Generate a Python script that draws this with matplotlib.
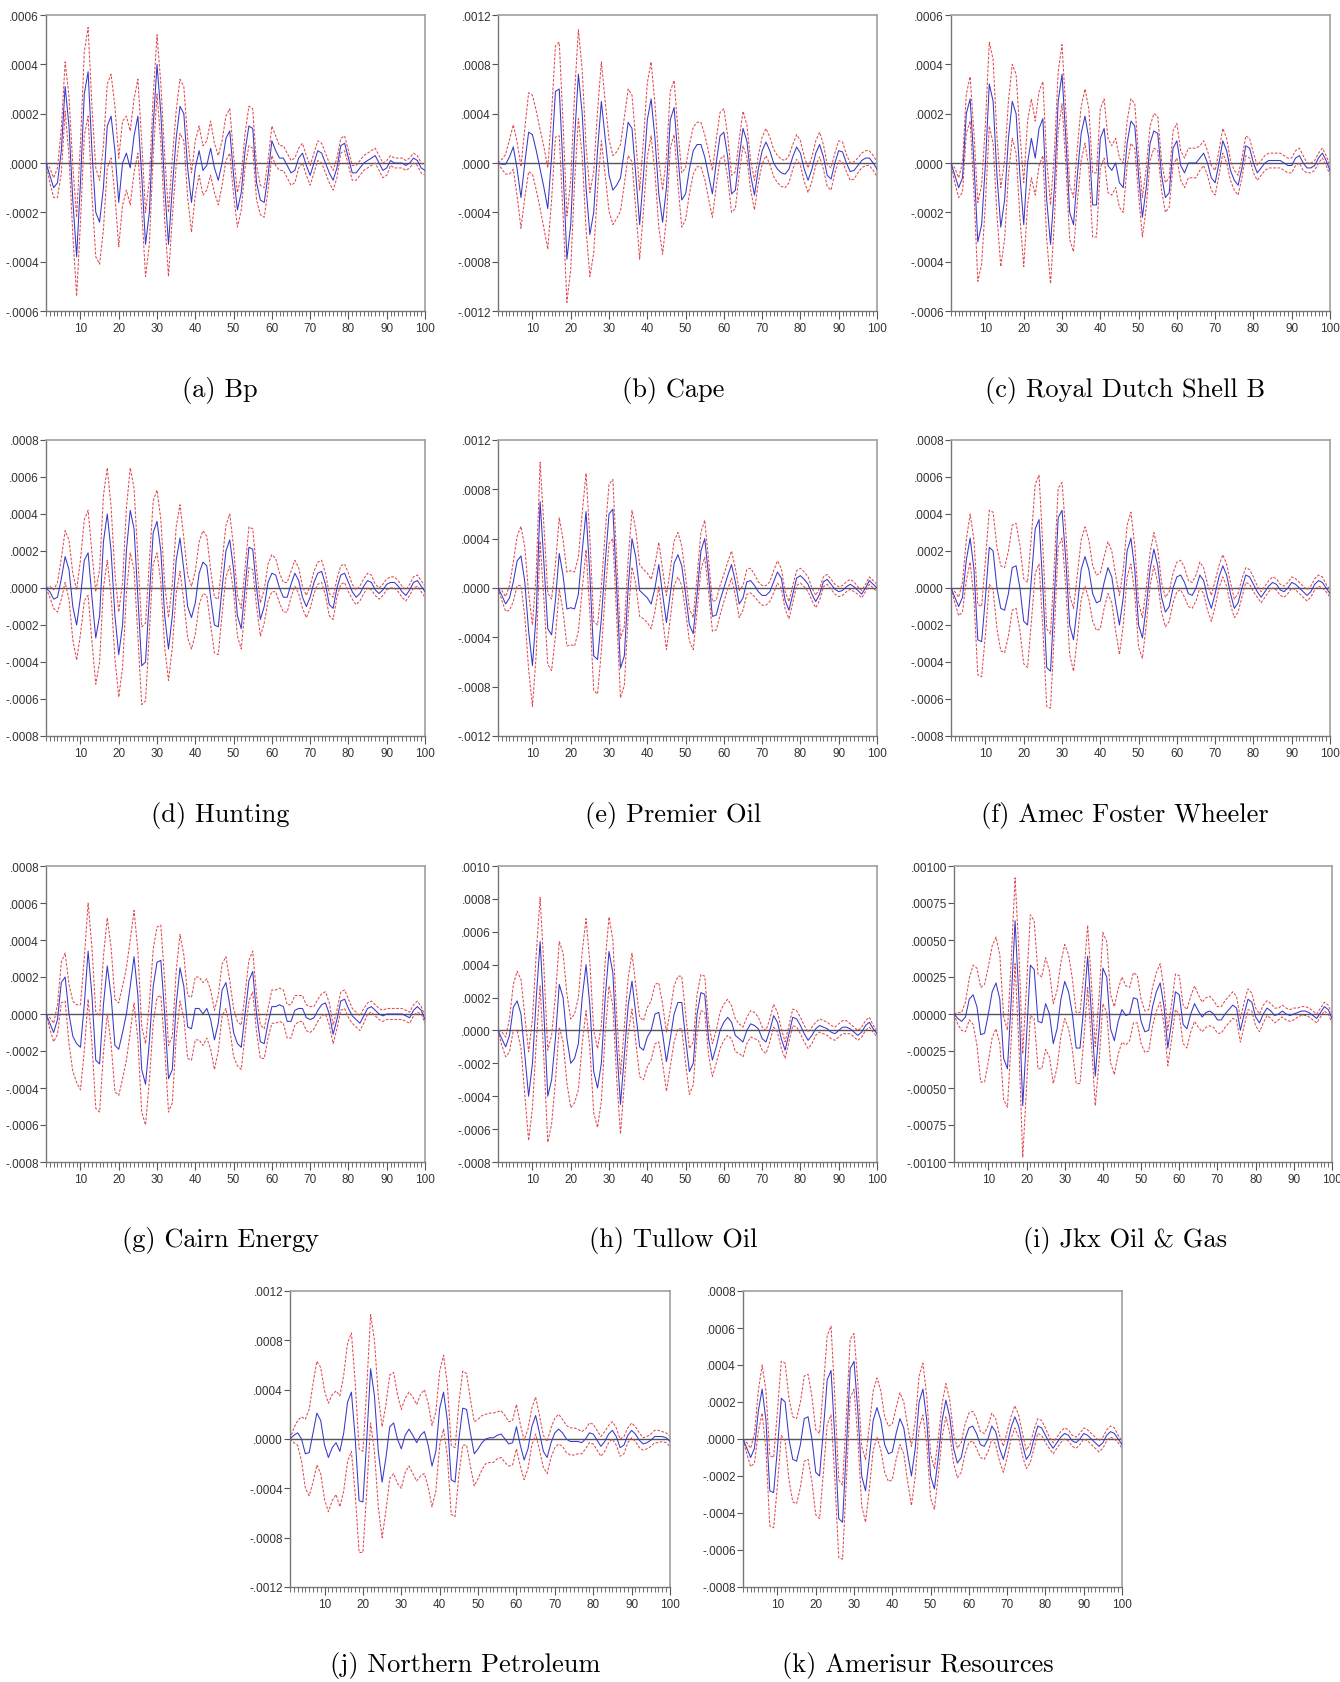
import numpy as np
import matplotlib
matplotlib.use('Agg')
import matplotlib.pyplot as plt
from matplotlib.ticker import FixedLocator, FuncFormatter

# impulse responses, units of 1e-5, horizon 1..100
# w_* is the half-width of the +/- 2 S.E. band
bp = [0, -5, -10, -8, 5, 31, 15, -15, -38, -8,
      28, 37, 5, -20, -24, -10, 15, 19, 5, -16,
      0, 4, -2, 11, 19, -5, -33, -20, 15, 40,
      20, -10, -33, -10, 10, 23, 20, -2, -16, -2,
      5, -3, -1, 6, -2, -7, 0, 10, 13, -5,
      -19, -12, 5, 15, 14, -8, -15, -16, -5, 9,
      5, 2, 2, -1, -4, -3, 2, 4, -1, -5,
      0, 5, 4, 0, -4, -7, -2, 7, 8, 2,
      -4, -4, -2, 0, 1, 2, 3, 0, -3, -2,
      1, 0, 0, 0, -1, 0, 2, 1, -2, -3]
w_bp = [0, 3, 4, 6, 9, 10, 12, 14, 16, 16,
        17, 18, 18, 18, 17, 17, 17, 17, 18, 18,
        17, 15, 15, 15, 15, 14, 13, 13, 12, 12,
        12, 13, 13, 12, 11, 11, 11, 12, 12, 11,
        10, 10, 10, 11, 10, 10, 9, 9, 9, 8,
        7, 7, 7, 8, 8, 7, 6, 6, 6, 6,
        6, 5, 5, 5, 5, 5, 4, 4, 4, 4,
        4, 4, 4, 4, 4, 4, 4, 3, 3, 3,
        3, 3, 3, 3, 3, 3, 3, 3, 3, 3,
        2, 2, 2, 2, 2, 2, 2, 2, 2, 2]

cape = [0, -1, -1, 5, 13, -5, -28, 0, 25, 23,
        10, -5, -20, -37, 5, 58, 60, -5, -78, -50,
        20, 72, 40, -20, -58, -40, 10, 50, 20, -10,
        -22, -18, -12, 10, 33, 28, -10, -50, -10, 35,
        52, 20, -25, -48, -20, 35, 45, 5, -30, -25,
        -5, 10, 15, 15, 5, -10, -25, 0, 22, 25,
        5, -25, -22, 5, 28, 18, -10, -26, -5, 10,
        17, 10, 0, -5, -8, -9, -5, 5, 13, 8,
        -5, -14, -5, 8, 15, 5, -10, -13, 0, 10,
        9, 0, -7, -6, -2, 2, 4, 4, 0, -5]
w_cape = [0, 4, 8, 14, 18, 22, 25, 28, 32, 32,
          32, 32, 33, 33, 35, 37, 38, 37, 35, 36,
          36, 36, 35, 34, 34, 33, 32, 32, 30, 29,
          28, 27, 27, 27, 27, 27, 28, 28, 29, 30,
          30, 28, 27, 26, 25, 23, 22, 22, 22, 21,
          20, 19, 18, 18, 18, 19, 19, 19, 19, 19,
          17, 15, 15, 14, 14, 13, 12, 12, 11, 11,
          11, 11, 11, 11, 11, 11, 11, 10, 10, 10,
          10, 10, 10, 10, 10, 10, 9, 9, 8, 8,
          8, 7, 7, 7, 6, 6, 6, 6, 6, 6]

shell = [0, -5, -10, -6, 20, 26, 0, -32, -25, 0,
         32, 25, -5, -26, -15, 10, 25, 20, -5, -25,
         0, 10, 2, 14, 18, -15, -33, -10, 25, 36,
         10, -20, -25, -5, 12, 19, 10, -17, -17, 10,
         14, -1, -3, 0, -8, -10, 8, 17, 15, -5,
         -22, -10, 8, 13, 12, -5, -14, -12, 6, 9,
         -1, -4, 0, 0, 0, 2, 4, 0, -6, -8,
         0, 9, 5, -3, -7, -9, -2, 7, 6, 0,
         -4, -2, 0, 1, 1, 1, 1, 0, -1, -1,
         2, 3, 0, -2, -2, -1, 2, 4, 1, -3]
w_shell = [0, 3, 4, 6, 8, 9, 12, 16, 16, 16,
           17, 17, 16, 16, 16, 15, 15, 16, 17, 17,
           17, 16, 15, 15, 15, 16, 16, 14, 12, 12,
           11, 11, 11, 11, 11, 11, 12, 13, 13, 12,
           12, 11, 10, 10, 10, 10, 9, 9, 9, 8,
           8, 8, 7, 7, 7, 6, 6, 6, 7, 7,
           6, 6, 6, 6, 6, 5, 5, 5, 5, 5,
           5, 5, 5, 4, 4, 4, 4, 4, 4, 4,
           3, 3, 3, 3, 3, 3, 3, 3, 3, 3,
           3, 3, 3, 2, 2, 2, 2, 2, 2, 2]

hunting = [0, -2, -6, -5, 5, 17, 10, -10, -20, -5,
           15, 19, -5, -27, -15, 25, 40, 20, -15, -36,
           -20, 20, 42, 32, -5, -42, -40, -5, 30, 36,
           20, -15, -33, -15, 15, 27, 10, -10, -16, -8,
           8, 14, 12, -5, -20, -21, 0, 20, 26, 10,
           -15, -22, 0, 22, 21, 0, -17, -10, 3, 8,
           7, 0, -5, -5, 2, 8, 4, -5, -10, -5,
           3, 8, 9, 2, -9, -11, 0, 7, 8, 3,
           -2, -5, -3, 1, 4, 3, -1, -3, -1, 2,
           3, 3, 1, -2, -4, -1, 3, 4, 1, -2]
w_hunting = [0, 3, 5, 8, 11, 14, 16, 18, 19, 20,
             22, 23, 24, 25, 25, 25, 25, 24, 23, 23,
             23, 23, 23, 22, 21, 21, 21, 19, 17, 17,
             17, 17, 17, 17, 18, 18, 17, 17, 17, 17,
             17, 17, 16, 15, 15, 15, 14, 14, 14, 12,
             11, 11, 11, 11, 11, 10, 9, 9, 10, 10,
             9, 8, 8, 8, 7, 7, 7, 6, 6, 6,
             6, 6, 6, 6, 6, 6, 5, 5, 5, 5,
             4, 4, 4, 4, 4, 4, 3, 3, 3, 3,
             3, 3, 3, 3, 3, 3, 3, 3, 3, 3]

premier = [0, -6, -13, -8, 5, 22, 26, 5, -35, -63,
           -20, 70, 20, -33, -38, -10, 28, 10, -17, -16,
           -17, -5, 30, 62, 10, -55, -58, -25, 20, 60,
           64, 0, -65, -55, 0, 40, 25, -2, -5, -8,
           -13, 0, 19, -5, -28, -5, 20, 27, 18, -5,
           -30, -37, -5, 30, 40, 10, -23, -22, -10, 0,
           10, 19, 5, -13, -8, 5, 6, 2, -3, -6,
           -6, -3, 5, 13, 8, -10, -18, -5, 8, 10,
           7, 3, -5, -11, -5, 5, 7, 3, -1, -3,
           -2, 1, 3, 1, -2, -5, 0, 6, 3, 0]
w_premier = [0, 4, 6, 10, 16, 20, 24, 28, 31, 33,
             33, 32, 30, 29, 29, 29, 29, 29, 30, 30,
             30, 30, 31, 31, 30, 28, 28, 26, 25, 24,
             24, 24, 24, 24, 23, 23, 22, 21, 20, 20,
             20, 19, 18, 20, 22, 20, 18, 18, 16, 14,
             13, 13, 14, 15, 15, 13, 12, 12, 12, 11,
             11, 11, 11, 11, 10, 10, 10, 9, 8, 8,
             8, 8, 9, 9, 8, 7, 7, 7, 6, 6,
             6, 6, 5, 5, 5, 4, 4, 4, 4, 4,
             4, 4, 4, 4, 3, 3, 3, 3, 3, 3]

amec = [0, -5, -10, -5, 15, 27, 10, -28, -29, -5,
        22, 20, 0, -11, -12, -3, 11, 12, 0, -18,
        -20, 5, 32, 37, 0, -43, -45, -5, 38, 42,
        15, -20, -28, -10, 10, 17, 10, -3, -8, -7,
        3, 11, 6, -8, -20, -5, 20, 27, 10, -20,
        -27, -10, 10, 21, 12, -5, -13, -10, 0, 6,
        7, 3, -3, -4, 0, 7, 4, -5, -11, -3,
        6, 12, 7, -3, -11, -8, 0, 7, 6, 2,
        -2, -5, -2, 1, 3, 2, -1, -2, 0, 3,
        2, 0, -2, -4, -2, 2, 4, 3, 0, -3]
w_amec = [0, 3, 5, 8, 11, 13, 16, 19, 19, 20,
          20, 21, 22, 23, 23, 23, 23, 23, 23, 23,
          23, 23, 24, 24, 22, 21, 20, 18, 16, 15,
          15, 16, 17, 17, 16, 16, 16, 15, 15, 15,
          14, 14, 14, 15, 16, 15, 14, 14, 13, 12,
          11, 10, 9, 9, 9, 8, 8, 8, 8, 8,
          8, 8, 7, 7, 7, 7, 7, 7, 7, 7,
          6, 6, 6, 6, 5, 5, 5, 4, 4, 4,
          3, 3, 3, 3, 3, 3, 3, 3, 3, 3,
          3, 3, 3, 3, 3, 3, 3, 3, 2, 2]

cairn = [0, -5, -10, -3, 17, 20, 0, -12, -16, -18,
         5, 34, 10, -25, -27, 5, 26, 10, -17, -19,
         -10, 0, 15, 31, 10, -30, -38, -15, 15, 28,
         29, 0, -35, -30, 5, 25, 15, -7, -8, 3,
         3, 0, 3, -3, -14, -5, 13, 17, 5, -10,
         -16, -18, 0, 18, 23, 0, -15, -16, -5, 4,
         4, 5, 4, -4, -4, 2, 3, 3, -2, -3,
         -2, 2, 5, 6, 0, -11, -3, 7, 8, 3,
         -1, -3, -5, -1, 3, 4, 2, 0, -1, 0,
         0, 0, 0, 0, -1, -2, 2, 4, 2, -3]
w_cairn = [0, 3, 5, 8, 11, 13, 16, 19, 21, 23,
           25, 26, 26, 26, 26, 26, 26, 26, 25, 25,
           25, 25, 25, 25, 24, 23, 22, 21, 20, 19,
           19, 18, 18, 18, 18, 18, 17, 17, 17, 17,
           17, 17, 16, 16, 16, 15, 14, 14, 13, 13,
           12, 12, 11, 11, 11, 10, 9, 8, 8, 9,
           9, 9, 9, 9, 9, 8, 7, 7, 7, 7,
           6, 6, 6, 6, 6, 5, 5, 5, 5, 5,
           4, 4, 4, 4, 3, 3, 3, 3, 3, 3,
           3, 3, 3, 3, 3, 3, 3, 3, 2, 2]

tullow = [0, -5, -10, -3, 14, 18, 10, -15, -40, -20,
          20, 54, 10, -40, -30, -5, 28, 20, -5, -20,
          -17, -8, 20, 40, 15, -25, -35, -20, 20, 48,
          35, -10, -45, -15, 15, 30, 10, -10, -12, -4,
          0, 10, 11, -2, -19, -5, 10, 17, 17, -5,
          -25, -20, 10, 23, 22, -5, -18, -10, 0, 5,
          8, 5, -3, -5, -7, 0, 4, 3, 1, -5,
          -7, 0, 9, 5, -5, -12, -2, 8, 7, 3,
          -2, -6, -3, 1, 3, 2, 1, -1, -2, 0,
          2, 2, 1, -1, -3, -1, 3, 5, 1, -2]
w_tullow = [0, 4, 6, 10, 14, 18, 21, 24, 27, 27,
            27, 27, 28, 28, 27, 26, 26, 27, 27, 27,
            27, 28, 28, 28, 26, 25, 24, 23, 22, 21,
            20, 19, 18, 17, 17, 17, 17, 18, 18, 18,
            18, 18, 18, 18, 18, 17, 17, 16, 16, 15,
            14, 13, 12, 11, 11, 10, 10, 10, 11, 11,
            11, 10, 10, 9, 9, 8, 8, 8, 7, 7,
            7, 7, 7, 6, 6, 5, 5, 5, 5, 5,
            5, 5, 5, 4, 4, 4, 4, 4, 4, 4,
            4, 4, 3, 3, 3, 3, 3, 3, 2, 2]

jkx = [0, -3, -5, -2, 10, 13, 5, -14, -13, 0,
       15, 21, 10, -30, -37, 10, 63, 10, -62, -15,
       33, 30, -5, -6, 7, 0, -20, -10, 10, 22,
       15, 0, -23, -23, 5, 39, 0, -42, -10, 31,
       25, -10, -18, -5, 3, -1, 0, 11, 10, -5,
       -12, -11, 5, 15, 21, 5, -23, -5, 15, 13,
       -7, -10, 0, 7, 2, -2, 1, 2, 0, -4,
       -4, 0, 3, 6, 4, -11, 0, 10, 8, -2,
       -6, 0, 4, 2, -1, 0, 2, 0, -1, 0,
       1, 2, 2, 1, -1, -3, 1, 5, 3, -3]
w_jkx = [0, 4, 6, 10, 14, 20, 26, 32, 33, 32,
         31, 31, 30, 28, 26, 27, 29, 32, 35, 34,
         34, 33, 32, 31, 31, 29, 27, 26, 25, 25,
         25, 24, 24, 24, 22, 21, 20, 20, 22, 24,
         24, 23, 23, 22, 22, 20, 18, 17, 16, 15,
         14, 14, 13, 13, 13, 12, 12, 12, 12, 13,
         13, 13, 12, 12, 11, 10, 10, 10, 9, 9,
         9, 9, 9, 9, 8, 8, 8, 7, 6, 6,
         6, 6, 5, 5, 5, 4, 4, 4, 4, 4,
         3, 3, 3, 3, 3, 3, 3, 3, 3, 3]

northern = [0, 3, 5, 0, -12, -11, 5, 21, 15, -5,
            -15, -7, -3, -10, 5, 30, 38, 0, -50, -51,
            0, 57, 35, -10, -35, -15, 10, 13, 0, -8,
            3, 8, 3, -3, 3, 6, -5, -22, -10, 25,
            38, 15, -33, -35, 0, 25, 24, 5, -12, -8,
            -3, 0, 1, 1, 3, 4, 0, -4, -3, 10,
            -5, -17, -8, 10, 19, 5, -10, -15, -3, 5,
            8, 5, 0, -2, -2, -2, -3, 0, 5, 4,
            -1, -6, -2, 4, 7, 2, -7, -5, 3, 7,
            4, -1, -4, -3, -1, 2, 2, 2, 1, -2]
w_northern = [0, 6, 10, 18, 28, 35, 40, 42, 43, 44,
              44, 43, 42, 45, 47, 48, 48, 45, 42, 41,
              42, 44, 45, 45, 45, 43, 42, 41, 36, 32,
              30, 30, 31, 31, 33, 34, 34, 33, 32, 30,
              30, 29, 28, 28, 29, 30, 29, 27, 26, 24,
              22, 20, 20, 20, 19, 19, 19, 18, 18, 18,
              17, 16, 16, 15, 15, 14, 13, 13, 12, 12,
              12, 11, 11, 11, 11, 10, 9, 8, 8, 8,
              8, 8, 8, 7, 7, 7, 7, 7, 6, 6,
              6, 6, 5, 5, 5, 5, 5, 4, 4, 4]

# Amerisur looks identical to Amec in the source
amerisur = list(amec)
w_amerisur = list(w_amec)

captions = ['(a) Bp', '(b) Cape', '(c) Royal Dutch Shell B',
            '(d) Hunting', '(e) Premier Oil', '(f) Amec Foster Wheeler',
            '(g) Cairn Energy', '(h) Tullow Oil', '(i) Jkx Oil & Gas',
            '(j) Northern Petroleum', '(k) Amerisur Resources']
series = [bp, cape, shell, hunting, premier, amec, cairn, tullow, jkx, northern, amerisur]
widths = [w_bp, w_cape, w_shell, w_hunting, w_premier, w_amec, w_cairn, w_tullow, w_jkx,
          w_northern, w_amerisur]
# (ymin, ymax, step, decimals)
yscales = [(-6e-4, 6e-4, 2e-4, 4), (-12e-4, 12e-4, 4e-4, 4), (-6e-4, 6e-4, 2e-4, 4),
           (-8e-4, 8e-4, 2e-4, 4), (-12e-4, 12e-4, 4e-4, 4), (-8e-4, 8e-4, 2e-4, 4),
           (-8e-4, 8e-4, 2e-4, 4), (-8e-4, 10e-4, 2e-4, 4), (-10e-4, 10e-4, 2.5e-4, 5),
           (-12e-4, 12e-4, 4e-4, 4), (-8e-4, 8e-4, 2e-4, 4)]

W, H = 1340, 1683
# axes boxes in pixels: left, top, right, bottom
boxes = [(46, 16, 425, 312), (498, 16, 877, 312), (951, 16, 1330, 312),
         (46, 441, 425, 737), (498, 441, 877, 737), (951, 441, 1330, 737),
         (46, 867, 425, 1163), (498, 867, 877, 1163), (954, 867, 1332, 1163),
         (290, 1292, 670, 1588), (743, 1292, 1122, 1588)]
cap_pos = [(220, 390), (673, 390), (1125, 390),
           (220, 816), (673, 816), (1125, 816),
           (220, 1241), (673, 1241), (1125, 1241),
           (465, 1666), (918, 1666)]

tick_font = ['Liberation Sans Narrow', 'Liberation Sans', 'DejaVu Sans']
cap_font = ['cmr10', 'DejaVu Serif']

fig = plt.figure(figsize=(W / 100, H / 100), dpi=100)
x = np.arange(1, 101)

for k in range(11):
    l, t, r, b = boxes[k]
    ax = fig.add_axes([l / W, 1 - b / H, (r - l) / W, (b - t) / H])
    y = np.array(series[k]) * 1e-5
    w = np.array(widths[k]) * 1e-5
    ax.axhline(0, color='#555555', lw=1.0, zorder=1)
    ax.plot(x, y + w, color='#e04a50', lw=0.75, dashes=(2.6, 1.5), zorder=2)
    ax.plot(x, y - w, color='#e04a50', lw=0.75, dashes=(2.6, 1.5), zorder=2)
    ax.plot(x, y, color='#3838c8', lw=0.75, zorder=3)

    ymin, ymax, step, dec = yscales[k]
    ax.set_xlim(1, 100)
    ax.set_ylim(ymin, ymax)
    yt = np.arange(ymin, ymax + step / 2, step)
    ax.yaxis.set_major_locator(FixedLocator(yt))
    ax.yaxis.set_major_formatter(FuncFormatter(
        lambda v, p, d=dec: ('%.*f' % (d, v)).replace('0.', '.', 1)
        if abs(v) > 1e-12 else '.' + '0' * d))
    ax.xaxis.set_major_locator(FixedLocator(np.arange(10, 101, 10)))
    ax.xaxis.set_minor_locator(FixedLocator(np.arange(1, 101)))
    ax.tick_params(axis='x', which='major', direction='out', length=6, width=0.8,
                   color='#555555', labelsize=8.5, labelcolor='#333333', pad=2)
    ax.tick_params(axis='x', which='minor', direction='out', length=3.5, width=0.6,
                   color='#555555')
    ax.tick_params(axis='y', direction='out', length=4, width=0.8, color='#555555',
                   labelsize=8.5, labelcolor='#333333', pad=1)
    for lab in ax.get_xticklabels() + ax.get_yticklabels():
        lab.set_family(tick_font)
    for s in ['top', 'right']:
        ax.spines[s].set_color('#a0a0a0')
        ax.spines[s].set_linewidth(1.2)
    for s in ['left', 'bottom']:
        ax.spines[s].set_color('#777777')
        ax.spines[s].set_linewidth(1.0)

    cx, cy = cap_pos[k]
    fig.text(cx / W, 1 - cy / H, captions[k], ha='center', va='center',
             family=cap_font, size=19)

fig.savefig('out.png', dpi=100, facecolor='white')
